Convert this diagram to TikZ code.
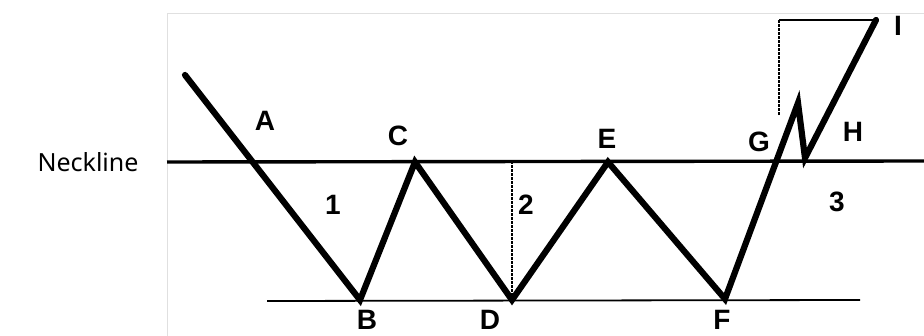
\documentclass[tikz,border=0pt]{standalone}
\usepackage{fontspec}
\setsansfont{Liberation Sans}
\newfontfamily\necklinefont{Noto Sans}
\usepackage{tikz}
\usetikzlibrary{positioning}

\begin{document}
\begin{tikzpicture}[
    x=1pt, y=-1pt,
    frame/.style={draw=black!12, line width=0.8pt},
    price/.style={line width=6.2pt, line cap=round, line join=miter, miter limit=8},
    neck/.style={line width=3.4pt},
    support/.style={line width=1.8pt},
    guide/.style={line width=1.4pt, dash pattern=on 3pt off 1pt},
    lbl/.style={font=\sffamily\bfseries\fontsize{28}{28}\selectfont, inner sep=0pt}
]
\useasboundingbox (0,0) rectangle (924,336);
\draw[frame] (167,336) -- (167,13) -- (924,13);

% points of the pattern
\coordinate (start) at (185,75);
\coordinate (a) at (253,162);
\coordinate (b) at (360,300);
\coordinate (c) at (415,162);
\coordinate (d) at (512,300);
\coordinate (e) at (608,162);
\coordinate (f) at (725,299);
\coordinate (g) at (777,162);
\coordinate (gtop) at (798,103);
\coordinate (h) at (805,158);
\coordinate (i) at (876,20);
\coordinate (corner) at (779,20);
\coordinate (gfoot) at (779,115);

% neckline and support line
\coordinate (nl-l) at (167,162);
\coordinate (nl-r) at (924,161);
\coordinate (sup-l) at (267,301);
\coordinate (sup-r) at (860,300);
\draw[neck] (nl-l) -- (nl-r);
\draw[support] (sup-l) -- (sup-r);

% measuring lines
\draw[guide] (d) -- (d |- nl-l);
\draw[guide] (gfoot) -- (corner);
\draw[line width=1.5pt] (corner) -- (i);

% price path
\draw[price] (start) -- (b) -- (c) -- (d) -- (e) -- (f) -- (gtop) -- (h) -- (i);

\node[font=\necklinefont\fontsize{25}{25}\selectfont] (neckline) at (88,162) {Neckline};
\node[lbl] (la) at (265,121) {A};
\node[lbl] (lc) at (398,136) {C};
\node[lbl] (le) at (607,139) {E};
\node[lbl] (lg) at (759,142) {G};
\node[lbl] (lh) at (853,132) {H};
\node[lbl] (li) at (898,26) {I};
\node[lbl] (l1) at (333,205) {1};
\node[lbl] (l2) at (526,205) {2};
\node[lbl] (l3) at (837,202) {3};
\node[lbl] (lb) at (367,320) {B};
\node[lbl] (ld) at (490,320) {D};
\node[lbl] (lf) at (722,320) {F};
\end{tikzpicture}
\end{document}
